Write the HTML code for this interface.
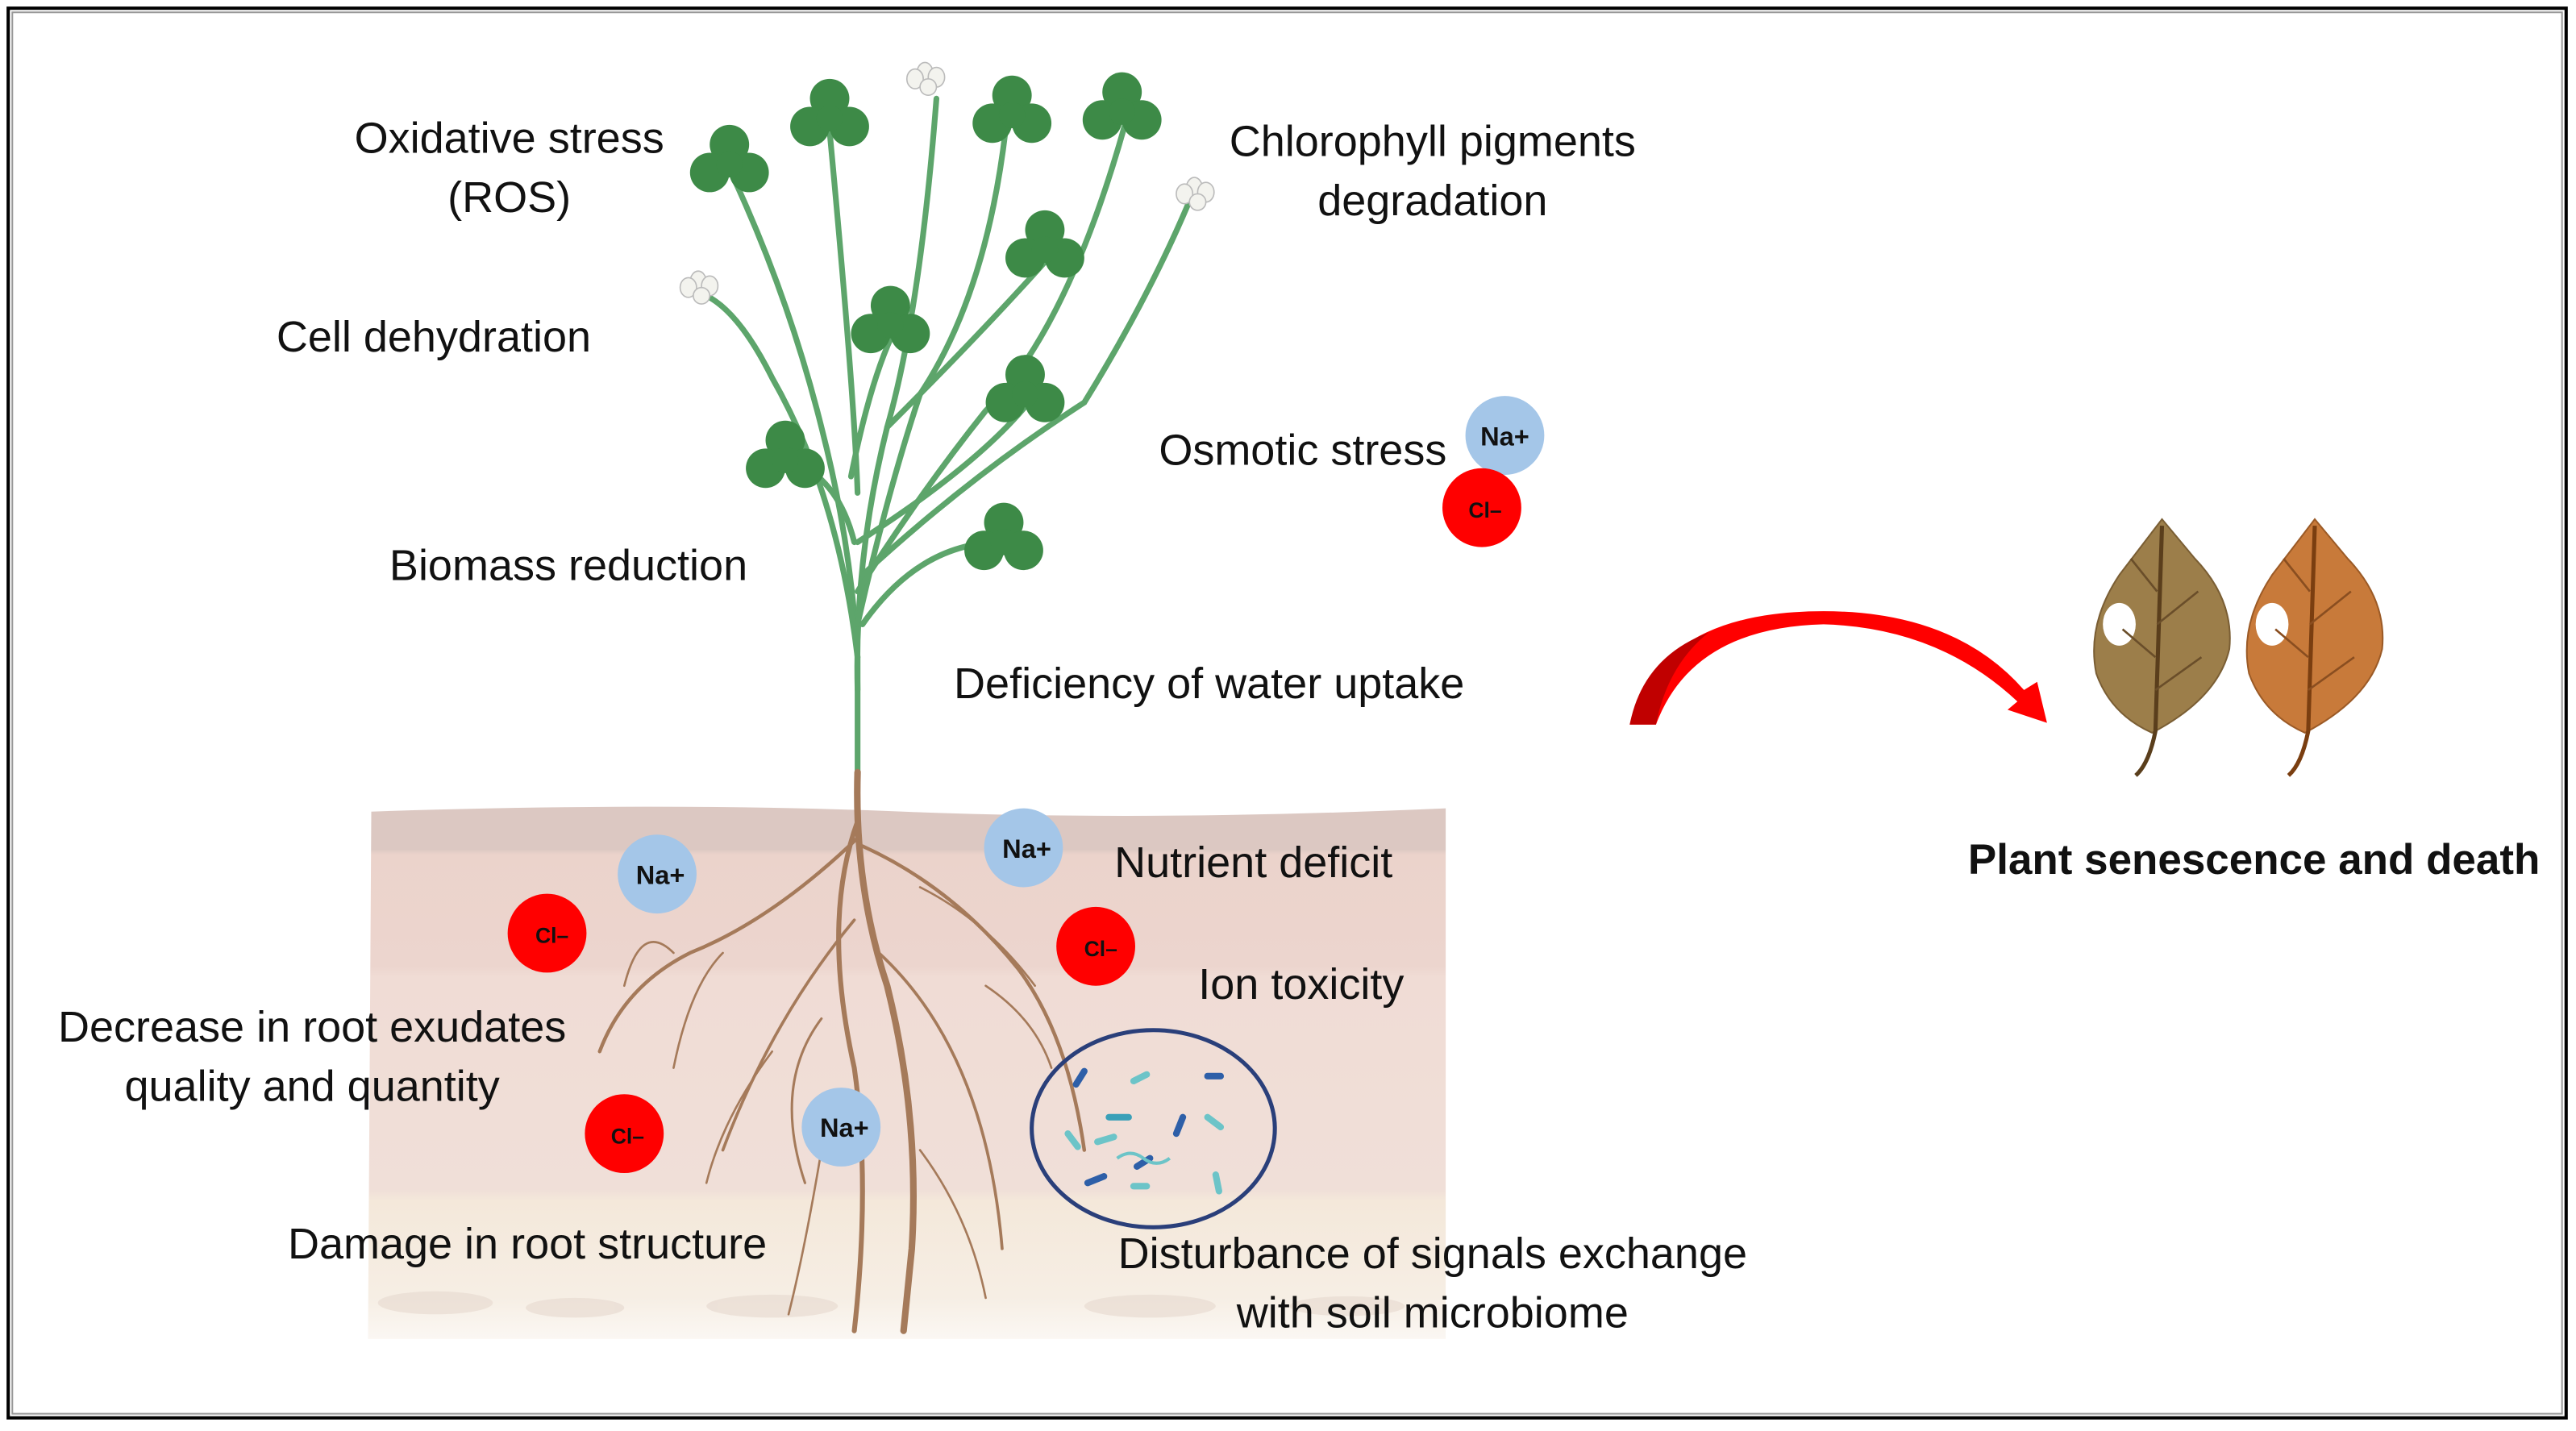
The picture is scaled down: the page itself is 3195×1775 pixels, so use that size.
<!DOCTYPE html>
<html><head><meta charset="utf-8"><style>
html,body{margin:0;padding:0;background:#fff}
svg{display:block}
text{font-family:"Liberation Sans",sans-serif;fill:#111}
</style></head><body>
<svg width="3195" height="1775" viewBox="0 0 1568 871" preserveAspectRatio="none" xmlns="http://www.w3.org/2000/svg">
<defs>
<linearGradient id="soil" x1="0" y1="0" x2="0" y2="1">
<stop offset="0" stop-color="#dcc8c2"/><stop offset="0.08" stop-color="#dcc8c2"/>
<stop offset="0.09" stop-color="#ebd3cb"/><stop offset="0.3" stop-color="#ecd5ce"/>
<stop offset="0.32" stop-color="#f0dcd5"/><stop offset="0.72" stop-color="#f0dfd8"/>
<stop offset="0.74" stop-color="#f4e8da"/><stop offset="0.92" stop-color="#f6eee4"/>
<stop offset="1" stop-color="#fbf7f3"/></linearGradient>
<g id="clover"><circle cx="0" cy="-12" r="12"/><circle cx="-12" cy="5" r="12"/><circle cx="12" cy="5" r="12"/><circle cx="0" cy="0" r="8"/></g>
<g id="flower" fill="#f3f3ee" stroke="#bbb" stroke-width="0.8"><ellipse cx="0" cy="0" rx="5" ry="7"/><ellipse cx="7" cy="2" rx="5" ry="6"/><ellipse cx="-6" cy="3" rx="5" ry="6"/><ellipse cx="2" cy="8" rx="5" ry="5"/></g>
</defs>
<rect x="0" y="0" width="1568" height="871" fill="#fff"/>
<rect x="5" y="5" width="1557" height="858" fill="none" stroke="#000" stroke-width="2"/>
<rect x="7.5" y="7.5" width="1552" height="853" fill="none" stroke="#999" stroke-width="1"/>

<path d="M226 494 Q400 488 550 494 T880 492 L880 815 L224 815 Z" fill="url(#soil)"/>
<g fill="#e8dbd2" opacity="0.7"><ellipse cx="265" cy="793" rx="35" ry="7"/><ellipse cx="350" cy="796" rx="30" ry="6"/><ellipse cx="470" cy="795" rx="40" ry="7"/><ellipse cx="700" cy="795" rx="40" ry="7"/><ellipse cx="820" cy="795" rx="35" ry="6"/></g>

<g fill="none" stroke="#5da56b" stroke-width="3.5" stroke-linecap="round">
<path d="M522 470 L522 400 Q518 330 500 260 Q480 180 445 105"/>
<path d="M522 400 Q510 300 470 230 Q450 190 430 180"/>
<path d="M522 420 Q520 340 540 260 Q560 190 570 60"/>
<path d="M522 380 Q540 300 560 240 Q600 180 612 80"/>
<path d="M522 360 Q560 300 600 250 Q650 200 685 75"/>
<path d="M525 350 Q590 290 660 245 Q700 180 725 120"/>
<path d="M522 300 Q520 240 505 80"/>
<path d="M525 380 Q560 330 610 330"/>
<path d="M522 330 Q600 280 630 240"/>
<path d="M520 330 Q510 290 480 280"/>
<path d="M540 260 Q600 200 640 155"/>
<path d="M518 290 Q530 230 545 200"/>
</g>
<g fill="#3d8a47">
<use href="#clover" x="444" y="100"/>
<use href="#clover" x="505" y="72"/>
<use href="#clover" x="616" y="70"/>
<use href="#clover" x="683" y="68"/>
<use href="#clover" x="542" y="198"/>
<use href="#clover" x="636" y="152"/>
<use href="#clover" x="624" y="240"/>
<use href="#clover" x="478" y="280"/>
<use href="#clover" x="611" y="330"/>
</g>
<use href="#flower" x="563" y="45"/>
<use href="#flower" x="425" y="172"/>
<use href="#flower" x="727" y="115"/>

<g fill="none" stroke="#a57a5a" stroke-linecap="round">
<path d="M522 470 Q520 540 540 600 Q560 680 555 760 L550 810" stroke-width="4"/>
<path d="M522 500 Q500 560 520 650 Q530 720 520 810" stroke-width="3"/>
<path d="M522 510 Q470 560 420 580 Q380 600 365 640" stroke-width="2.2"/>
<path d="M525 515 Q580 540 620 590 Q650 630 660 700" stroke-width="2.2"/>
<path d="M520 560 Q470 620 440 700" stroke-width="1.8"/>
<path d="M535 580 Q600 640 610 760" stroke-width="1.8"/>
<path d="M500 620 Q470 660 490 720" stroke-width="1.5"/>
<path d="M440 580 Q420 600 410 650 M410 580 Q390 560 380 600 M600 600 Q630 620 640 650 M560 540 Q600 560 630 600 M470 640 Q440 680 430 720 M560 700 Q590 740 600 790 M500 700 Q490 760 480 800" stroke-width="1.3"/>
</g>

<ellipse cx="702" cy="687" rx="74" ry="60" fill="none" stroke="#2a3f7a" stroke-width="2.5"/>
<g stroke-linecap="round" stroke-width="4">
<path d="M655 660 l5 -8" stroke="#2e5fa8"/><path d="M690 658 l8 -4" stroke="#6cc4c8"/><path d="M720 680 l-4 10" stroke="#2e5fa8"/>
<path d="M668 695 l10 -3" stroke="#6cc4c8"/><path d="M700 705 l-8 5" stroke="#2e5fa8"/><path d="M650 690 l6 8" stroke="#6cc4c8"/>
<path d="M735 680 l8 6" stroke="#6cc4c8"/><path d="M662 720 l10 -4" stroke="#2e5fa8"/><path d="M740 715 l2 10" stroke="#6cc4c8"/>
<path d="M735 655 l8 0" stroke="#2e5fa8"/><path d="M675 680 l12 0" stroke="#3aa0b8"/><path d="M690 722 l8 0" stroke="#6cc4c8"/>
</g>
<path d="M680 705 q8 -6 16 0 q8 6 16 0" fill="none" stroke="#6cc4c8" stroke-width="2"/>

<g font-weight="bold" text-anchor="middle">
<circle cx="916" cy="265" r="24" fill="#a4c6e8"/><text x="916" y="271" font-size="16">Na+</text>
<circle cx="902" cy="309" r="24" fill="#ff0000"/><text x="904" y="315" font-size="13">Cl–</text>
<circle cx="400" cy="532" r="24" fill="#a4c6e8"/><text x="402" y="538" font-size="16">Na+</text>
<circle cx="333" cy="568" r="24" fill="#ff0000"/><text x="336" y="574" font-size="13">Cl–</text>
<circle cx="623" cy="516" r="24" fill="#a4c6e8"/><text x="625" y="522" font-size="16">Na+</text>
<circle cx="667" cy="576" r="24" fill="#ff0000"/><text x="670" y="582" font-size="13">Cl–</text>
<circle cx="380" cy="690" r="24" fill="#ff0000"/><text x="382" y="696" font-size="13">Cl–</text>
<circle cx="512" cy="686" r="24" fill="#a4c6e8"/><text x="514" y="692" font-size="16">Na+</text>
</g>

<g font-size="26.5">
<text x="310" y="93" text-anchor="middle">Oxidative stress</text>
<text x="310" y="129" text-anchor="middle">(ROS)</text>
<text x="872" y="95" text-anchor="middle">Chlorophyll pigments</text>
<text x="872" y="131" text-anchor="middle">degradation</text>
<text x="264" y="214" text-anchor="middle">Cell dehydration</text>
<text x="793" y="283" text-anchor="middle">Osmotic stress</text>
<text x="346" y="353" text-anchor="middle">Biomass reduction</text>
<text x="736" y="425" text-anchor="middle">Deficiency of water uptake</text>
<text x="763" y="534" text-anchor="middle">Nutrient deficit</text>
<text x="792" y="608" text-anchor="middle">Ion toxicity</text>
<text x="190" y="634" text-anchor="middle">Decrease in root exudates</text>
<text x="190" y="670" text-anchor="middle">quality and quantity</text>
<text x="321" y="766" text-anchor="middle">Damage in root structure</text>
<text x="872" y="772" text-anchor="middle">Disturbance of signals exchange</text>
<text x="872" y="808" text-anchor="middle">with soil microbiome</text>
<text x="1372" y="532" text-anchor="middle" font-weight="bold" font-size="26">Plant senescence and death</text>
</g>

<path d="M992 441 Q1010 372 1110 372 Q1190 372 1232 420 L1240 415 L1246 440 L1222 432 L1228 427 Q1180 382 1110 380 Q1030 382 1008 441 Z" fill="#ff0000"/>
<path d="M992 441 Q1000 400 1040 385 Q1015 405 1008 441 Z" fill="#c00000"/>

<g>
<path d="M1316 316 L1336 340 Q1360 365 1357 395 Q1350 425 1310 446 Q1285 435 1276 410 Q1270 380 1290 350 Z" fill="#9c7e4a" stroke="#7a5e34" stroke-width="1"/>
<ellipse cx="1290" cy="380" rx="10" ry="13" fill="#fff"/>
<path d="M1316 320 L1312 445 Q1308 465 1300 472" fill="none" stroke="#5a3e1c" stroke-width="2.5"/>
<path d="M1313 360 L1297 340 M1313 380 L1338 360 M1312 400 L1292 383 M1312 420 L1340 400" fill="none" stroke="#6a4e2a" stroke-width="1.3"/>
<path d="M1409 316 L1429 340 Q1453 365 1450 395 Q1443 425 1403 446 Q1378 435 1369 410 Q1363 380 1383 350 Z" fill="#c87a3a" stroke="#9b5a26" stroke-width="1"/>
<ellipse cx="1383" cy="380" rx="10" ry="13" fill="#fff"/>
<path d="M1409 320 L1405 445 Q1401 465 1393 472" fill="none" stroke="#7a3e10" stroke-width="2.5"/>
<path d="M1406 360 L1390 340 M1406 380 L1431 360 M1405 400 L1385 383 M1405 420 L1433 400" fill="none" stroke="#8a4e20" stroke-width="1.3"/>
</g>
</svg>
</body></html>
